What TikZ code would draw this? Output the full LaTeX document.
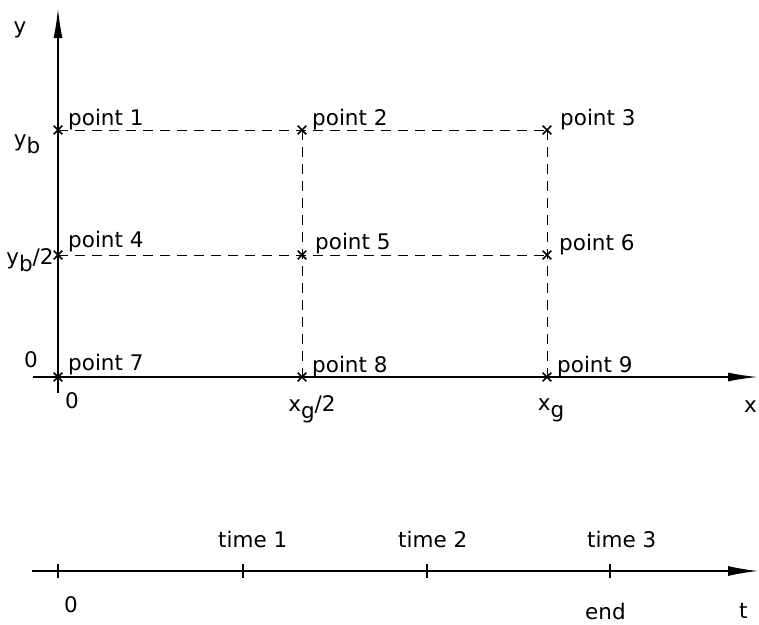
\documentclass[tikz,border=0pt]{standalone}
\usepackage{fontspec}
\setmainfont{DejaVu Sans}
\usetikzlibrary{arrows.meta,shapes.misc}
% subscript letter set at full size, only lowered
\newcommand\lowsub[1]{\raisebox{-0.32em}{#1}}
\begin{document}
\begin{tikzpicture}[x=1pt,y=-1pt,
  axis/.style={line width=1.8pt,-{Latex[length=30pt,width=9pt]}},
  timeaxis/.style={line width=1.3pt,-{Latex[length=30pt,width=10pt]}},
  gridline/.style={line width=0.9pt,dash pattern=on 10pt off 7pt},
  ptmark/.style={draw,cross out,minimum size=7pt,inner sep=0pt,line width=1.6pt},
  tick/.style={line width=1.5pt},
  lbl/.style={font=\fontsize{21.5}{21.5}\selectfont,inner sep=0pt}]
\useasboundingbox (0,0) rectangle (759,624);

% grid points
\coordinate (p1) at (58,130);  \coordinate (p2) at (302,130); \coordinate (p3) at (547,130);
\coordinate (p4) at (58,255);  \coordinate (p5) at (302,255); \coordinate (p6) at (547,255);
\coordinate (p7) at (58,377);  \coordinate (p8) at (302,377); \coordinate (p9) at (547,377);

% axes
\coordinate (ybot) at (58,393); \coordinate (ytop) at (58,8);
\coordinate (xleft) at (33,377); \coordinate (xright) at (758,377);
\draw[axis] (ybot) -- (ytop);
\draw[axis] (xleft) -- (xright);

% dashed grid
\draw[gridline] (p1) -- (p3);
\draw[gridline] (p4) -- (p6);
\draw[gridline] (p2) -- (p8);
\draw[gridline] (p3) -- (p9);

% point marks
\foreach \i in {1,...,9} {\node[ptmark] (m\i) at (p\i) {};}

% point labels
\node[lbl,anchor=base west] (l1) at (68,125) {point 1};
\node[lbl,anchor=base west] (l2) at (312,125) {point 2};
\node[lbl,anchor=base west] (l3) at (560,125) {point 3};
\node[lbl,anchor=base west] (l4) at (68,247) {point 4};
\node[lbl,anchor=base west] (l5) at (315,249) {point 5};
\node[lbl,anchor=base west] (l6) at (559,250) {point 6};
\node[lbl,anchor=base west] (l7) at (68,370) {point 7};
\node[lbl,anchor=base west] (l8) at (312,372) {point 8};
\node[lbl,anchor=base west] (l9) at (557,372) {point 9};

% axis labels
\node[lbl] (ylab) at (20,30) {y};
\node[lbl] (yb) at (27,144) {y\lowsub{b}};
\node[lbl] (yb2) at (30,260) {y\lowsub{b}/2};
\node[lbl] (y0) at (31,360) {0};
\node[lbl] (x0) at (72,401) {0};
\node[lbl] (xg2) at (312,409) {x\lowsub{g}/2};
\node[lbl] (xg) at (551,410) {x\lowsub{g}};
\node[lbl,anchor=west] (xlab) at (744,407) {x};

% time axis
\coordinate (tleft) at (32,571); \coordinate (tright) at (758,571);
\draw[timeaxis] (tleft) -- (tright);
\coordinate (t0) at (58,571);  \coordinate (t1) at (243,571);
\coordinate (t2) at (427,571); \coordinate (t3) at (610,571);
\foreach \t in {t0,t1,t2,t3} {\draw[tick] ([yshift=7pt]\t) -- ([yshift=-7pt]\t);}

\node[lbl,anchor=base west] (time1) at (218,547) {time 1};
\node[lbl,anchor=base west] (time2) at (398,547) {time 2};
\node[lbl,anchor=base west] (time3) at (587,547) {time 3};
\node[lbl] (tzero) at (71,605) {0};
\node[lbl,anchor=base west] (tend) at (585,619) {end};
\node[lbl,anchor=base west] (tlab) at (739,618) {t};
\end{tikzpicture}
\end{document}
